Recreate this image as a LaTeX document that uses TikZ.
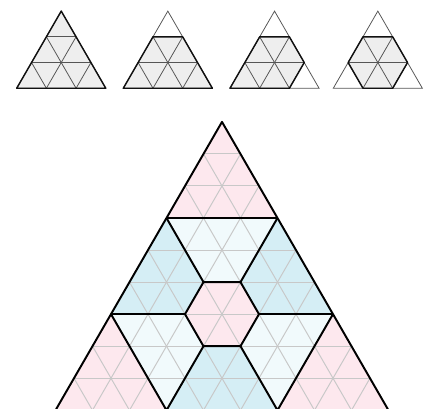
\documentclass[tikz,border=0pt]{standalone}
\usetikzlibrary{positioning}
\definecolor{ink}{HTML}{111111}
\definecolor{mutedink}{HTML}{555555}
\definecolor{paper}{HTML}{EEEEEE}
\definecolor{rose}{HTML}{FDE8EE}
\definecolor{sky}{HTML}{D5EEF5}
\definecolor{mist}{HTML}{F1FAFC}
\definecolor{faint}{HTML}{C8C8C8}
\tikzset{
  smalllat/.style={x={(0.8027cm,0cm)},y={(0.4014cm,0.6952cm)}},
  biglat/.style={x={(1cm,0cm)},y={(0.5cm,0.866cm)}},
  smallgrid/.style={mutedink,line width=0.6pt},
  smalledge/.style={ink,line width=1.1pt,line join=round},
  biggrid/.style={faint,line width=0.75pt},
  bigedge/.style={black,line width=1.5pt,line join=round}
}
\newcommand{\smalltri}{%
  \foreach \k in {1,2} {
    \draw[smallgrid] (0,\k) -- ({3-\k},\k);
    \draw[smallgrid] (\k,0) -- (\k,{3-\k});
    \draw[smallgrid] (\k,0) -- (0,\k);
  }
  \draw[smallgrid] (0,0) -- (3,0) -- (0,3) -- cycle;
}
\begin{document}
\begin{tikzpicture}
        \useasboundingbox (0,0) rectangle (11.595,11.054);
        % corner cuts, top row
        \begin{scope}[shift={(0.451,8.668)},smalllat]
          \fill[paper] (0,0) -- (3,0) -- (0,3) -- cycle;
          \smalltri
          \draw[smalledge] (0,0) -- (3,0) -- (0,3) -- cycle;
        \end{scope}
        \begin{scope}[shift={(3.332,8.668)},smalllat]
          \fill[paper] (0,0) -- (3,0) -- (1,2) -- (0,2) -- cycle;
          \smalltri
          \draw[smalledge] (0,0) -- (3,0) -- (1,2) -- (0,2) -- cycle;
        \end{scope}
        \begin{scope}[shift={(6.216,8.668)},smalllat]
          \fill[paper] (0,0) -- (2,0) -- (2,1) -- (1,2) -- (0,2) -- cycle;
          \smalltri
          \draw[smalledge] (0,0) -- (2,0) -- (2,1) -- (1,2) -- (0,2) -- cycle;
        \end{scope}
        \begin{scope}[shift={(9.008,8.668)},smalllat]
          \fill[paper] (1,0) -- (2,0) -- (2,1) -- (1,2) -- (0,2) -- (0,1) -- cycle;
          \smalltri
          \draw[smalledge] (1,0) -- (2,0) -- (2,1) -- (1,2) -- (0,2) -- (0,1) -- cycle;
        \end{scope}
        % big triangle, tiled
        \begin{scope}[shift={(1.5,-0.035)},biglat]
          \fill[rose] (0,6) -- (3,6) -- (0,9) -- cycle;
          \fill[rose] (0,0) -- (3,0) -- (0,3) -- cycle;
          \fill[rose] (6,0) -- (9,0) -- (6,3) -- cycle;
          \fill[rose] (2,4) -- (3,4) -- (4,3) -- (4,2) -- (3,2) -- (2,3) -- cycle;
          \fill[sky] (0,6) -- (2,4) -- (2,3) -- (0,3) -- cycle;
          \fill[sky] (3,6) -- (6,3) -- (4,3) -- (3,4) -- cycle;
          \fill[sky] (3,2) -- (4,2) -- (6,0) -- (3,0) -- cycle;
          \fill[mist] (0,6) -- (3,6) -- (3,4) -- (2,4) -- cycle;
          \fill[mist] (0,3) -- (2,3) -- (3,2) -- (3,0) -- cycle;
          \fill[mist] (4,3) -- (6,3) -- (6,0) -- (4,2) -- cycle;
          \foreach \k in {1,...,8} {
            \draw[biggrid] (0,\k) -- ({9-\k},\k);
            \draw[biggrid] (\k,0) -- (\k,{9-\k});
            \draw[biggrid] (\k,0) -- (0,\k);
          }
          \draw[bigedge] (0,0) -- (9,0) -- (0,9) -- cycle;
          \draw[bigedge] (0,6) -- (3,6);
          \draw[bigedge] (0,6) -- (2,4) -- (3,4) -- (3,6);
          \draw[bigedge] (2,4) -- (2,3) -- (3,2) -- (4,2) -- (4,3) -- (3,4);
          \draw[bigedge] (0,3) -- (2,3);
          \draw[bigedge] (4,3) -- (6,3);
          \draw[bigedge] (0,3) -- (3,0) -- (3,2);
          \draw[bigedge] (4,2) -- (6,0) -- (6,3);
        \end{scope}
      \end{tikzpicture}
\end{document}
